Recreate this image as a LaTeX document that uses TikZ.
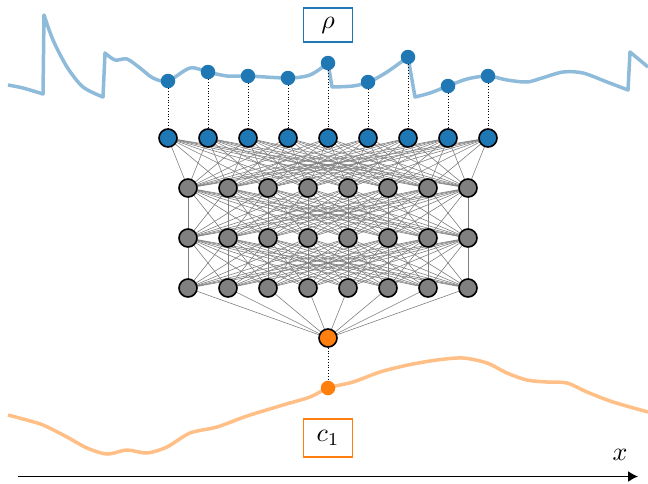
\documentclass[tikz,border=0pt]{standalone}
\usetikzlibrary{arrows.meta}
\definecolor{tabblue}{HTML}{1F77B4}
\definecolor{taborange}{HTML}{FF7F0E}
\definecolor{lblue}{HTML}{8FBBDA}
\definecolor{lorange}{HTML}{FFBF86}
\begin{document}
\begin{tikzpicture}[x=1pt,y=-1pt,
  neuron/.style={circle,draw=black,line width=1.6pt,minimum size=18pt,inner sep=0pt},
  innode/.style={neuron,fill=tabblue},
  hidnode/.style={neuron,fill=gray},
  outnode/.style={neuron,fill=taborange},
  bdot/.style={circle,fill=tabblue,minimum size=14.5pt,inner sep=0pt},
  odot/.style={circle,fill=taborange,minimum size=14.5pt,inner sep=0pt},
  conn/.style={draw=gray,line width=0.6pt},
  dotl/.style={draw=black,dotted,line width=0.8pt},
  curveb/.style={draw=lblue,line width=3.5pt,line join=round},
  curveo/.style={draw=lorange,line width=3.5pt,line join=round},
  lbl/.style={draw,line width=1.4pt,minimum width=49pt,inner sep=0pt}
]
\useasboundingbox (0,0) rectangle (648,483);
% top curve
\draw[curveb] plot[smooth,tension=0.5] coordinates {(8,85) (23,88) (43,94)}
  -- plot[smooth,tension=0.5] coordinates {(44,15) (53,40) (67,67) (83,87) (103,97)}
  -- plot[smooth,tension=0.5] coordinates {(105,53) (115,60) (127,59) (140,68) (153,78) (168,81) (190,68) (208,72) (227,76) (248,76) (288,78) (310,75) (328,63)}
  -- plot[smooth,tension=0.5] coordinates {(332,87) (353,86) (369,82) (387,72) (408,57)}
  -- plot[smooth,tension=0.5] coordinates {(415,97) (430,93) (448,86) (467,79) (488,76) (507,80) (527,82) (542,78) (563,72) (583,73) (607,82) (628,90)}
  -- plot[smooth,tension=0.5] coordinates {(630,52) (648,67)};
% bottom curve
\draw[curveo] plot[smooth,tension=0.5] coordinates {(8,415) (23,419) (43,425) (67,437) (87,448) (107,454) (127,450) (147,453) (167,447) (190,433) (217,427) (247,416) (283,405) (310,397) (328,388) (353,382) (380,372) (408,365) (437,360) (463,358) (487,363) (507,373) (527,380) (547,382) (567,383) (587,392) (613,402) (648,412)};
% node positions
\foreach \i/\x/\y in {1/168/81,2/208/72,3/248/76,4/288/78,5/328/63,6/368/82,7/408/57,8/448/86,9/488/76}{
  \coordinate (i\i) at (\x,138);
  \node[bdot] (d\i) at (\x,\y) {};
}
\foreach \l/\y in {1/188,2/238,3/288}{
  \foreach \j in {1,...,8}{
    \coordinate (h\l-\j) at ({148+40*\j},\y);
  }
}
\coordinate (o) at (328,338);
\node[odot] (od) at (328,388) {};
% connections
\foreach \i in {1,...,9}{\foreach \j in {1,...,8}{\path[conn] (i\i) -- (h1-\j);}}
\foreach \i in {1,...,8}{\foreach \j in {1,...,8}{\path[conn] (h1-\i) -- (h2-\j); \path[conn] (h2-\i) -- (h3-\j);}}
\foreach \j in {1,...,8}{\path[conn] (h3-\j) -- (o);}
% neurons on top
\foreach \i in {1,...,9}{
  \node[innode] (n\i) at (i\i) {};
  \path[dotl] (d\i) -- (n\i);
}
\foreach \l in {1,2,3}{
  \foreach \j in {1,...,8}{
    \node[hidnode] (m\l-\j) at (h\l-\j) {};
  }
}
\node[outnode] (on) at (o) {};
\path[dotl] (on) -- (od);
% labels
\node[lbl,draw=tabblue,minimum height=34pt] (rho) at (328,25) {\scalebox{2.6}{$\rho$}};
\node[lbl,draw=taborange,minimum height=38pt] (c1) at (328,438) {\scalebox{2.6}{$c_1$}};
\coordinate (ax0) at (18,476.5);
\coordinate (ax1) at (638,476.5);
\draw[line width=1.4pt,-{Latex[length=10pt,width=11pt]}] (ax0) -- (ax1);
\node (xl) at (620,455) {\scalebox{2.6}{$x$}};
\end{tikzpicture}
\end{document}
